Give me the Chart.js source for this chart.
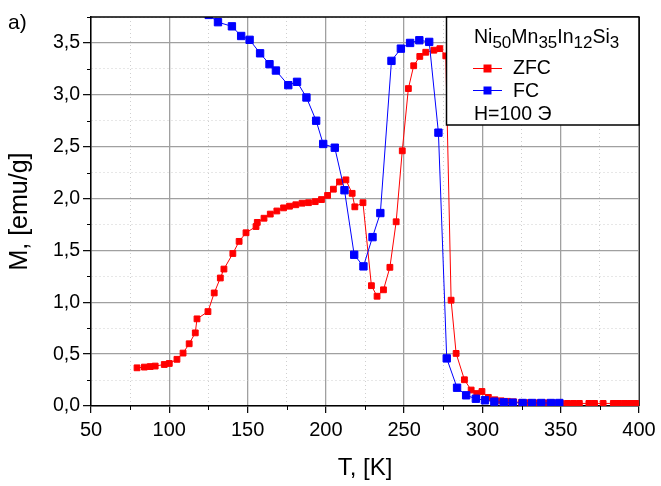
<!DOCTYPE html>
<html><head><meta charset="utf-8">
<script src="https://cdn.jsdelivr.net/npm/chart.js@4/dist/chart.umd.min.js"></script>
<style>html,body{margin:0;padding:0;background:#fff}</style>
</head><body>
<canvas id="c" width="661" height="486" style="display:block;width:661px;height:486px"></canvas>
<script>
// ZFC series
const zfcT = [79.4,84.1,87.8,91.0,96.8,100.0,104.9,108.8,112.7,116.6,117.7,124.7,128.7,132.6,134.9,140.6,144.6,149.0,155.4,156.2,160.5,164.5,168.7,173.0,176.8,180.8,184.8,188.9,193.2,197.2,201.1,204.8,208.7,212.8,216.8,218.5,223.7,229.1,232.7,236.8,240.9,244.9,248.8,252.7,256.1,260.0,263.8,269.0,272.8,276.6,280.0,283.2,288.5,292.8,296.4,299.7,303.8,308,312,316,320,325,330,335,340,345,350,354.2,358.1,361.9,368.0,371.6,377.1,383.6,387.2,390.9,394.4,398.0];
const zfcM = [0.368,0.375,0.38,0.385,0.40,0.41,0.45,0.51,0.60,0.705,0.84,0.91,1.09,1.234,1.32,1.47,1.587,1.67,1.73,1.77,1.81,1.85,1.88,1.91,1.926,1.94,1.955,1.96,1.97,1.99,2.03,2.09,2.16,2.18,2.05,1.92,1.96,1.16,1.058,1.12,1.337,1.776,2.46,3.06,3.28,3.37,3.41,3.43,3.445,3.375,1.02,0.507,0.253,0.154,0.12,0.14,0.083,0.06,0.05,0.045,0.04,0.035,0.032,0.03,0.03,0.028,0.026,0.025,0.025,0.025,0.025,0.025,0.025,0.025,0.025,0.025,0.025,0.025];
// FC series
const fcT = [114.7,125.2,131.1,140.0,145.9,151.3,158.0,164.0,168.1,176.0,181.6,187.6,193.8,198.3,205.7,211.9,218.1,224.0,229.8,234.8,241.9,247.9,253.8,259.7,266.0,271.9,277.2,283.8,289.6,295.8,301.6,307.6,313.6,319.3,325.7,331.7,337.6,343.7,349.1];
const fcM = [3.82,3.77,3.70,3.66,3.567,3.53,3.40,3.295,3.234,3.093,3.125,2.974,2.75,2.526,2.49,2.08,1.458,1.346,1.628,1.86,3.327,3.445,3.50,3.526,3.51,2.635,0.459,0.176,0.103,0.07,0.055,0.042,0.035,0.032,0.029,0.029,0.029,0.029,0.029];
// tick labels
const xTickLabels = ['50','100','150','200','250','300','350','400'];
const yTickLabels = ['0,0','0,5','1,0','1,5','2,0','2,5','3,0','3,5'];
const seriesNames = ['ZFC','FC'];
const formula = [['Ni','50'],['Mn','35'],['In','12'],['Si','3']];
const fieldLabel = 'H=100 Э';

const FONT = "'Liberation Sans', Arial, sans-serif";
const isMajX = v => Math.abs(v/50 - Math.round(v/50)) < 1e-6;
const isMajY = v => Math.abs(v/0.5 - Math.round(v/0.5)) < 1e-6;

const extras = {
  id: 'extras',
  afterDraw(chart) {
    const ctx = chart.ctx, a = chart.chartArea;
    const xs = chart.scales.x, ys = chart.scales.y;
    ctx.save();
    // minor ticks
    ctx.strokeStyle = '#000'; ctx.lineWidth = 1;
    ctx.beginPath();
    for (let v = 75; v < 400; v += 50) { const px = Math.round(xs.getPixelForValue(v)) + 0.5; ctx.moveTo(px, a.bottom); ctx.lineTo(px, a.bottom + 4); }
    for (let v = 0.25; v < 3.8; v += 0.5) { const py = Math.round(ys.getPixelForValue(v)) + 0.5; ctx.moveTo(a.left - 4, py); ctx.lineTo(a.left, py); }
    ctx.stroke();
    // frame top / right
    ctx.beginPath(); ctx.lineWidth = 1.5;
    ctx.moveTo(a.left, a.top); ctx.lineTo(a.right, a.top);
    ctx.stroke();
    ctx.beginPath(); ctx.lineWidth = 1; ctx.strokeStyle = '#333';
    ctx.moveTo(a.right + 0.5, a.top); ctx.lineTo(a.right + 0.5, a.bottom);
    ctx.stroke();
    // legend box
    const bx = 446.5, by = a.top, bw = a.right - 446.5, bh = 108;
    ctx.fillStyle = '#fff'; ctx.fillRect(bx, by, bw, bh);
    ctx.strokeStyle = '#000'; ctx.lineWidth = 1.5; ctx.strokeRect(bx, by, bw, bh);
    ctx.fillStyle = '#000'; ctx.textBaseline = 'alphabetic'; ctx.textAlign = 'left';
    let x = 474;
    formula.forEach(([el, sub]) => {
      ctx.font = '19.5px ' + FONT; ctx.fillText(el, x, 43); x += ctx.measureText(el).width;
      ctx.font = '17px ' + FONT; ctx.fillText(sub, x, 47.5); x += ctx.measureText(sub).width;
    });
    const items = [[seriesNames[0], '#ff0000', 68, 74], [seriesNames[1], '#0000ff', 90, 97]];
    items.forEach(([t, c, ly, tb]) => {
      ctx.strokeStyle = c; ctx.lineWidth = 1;
      ctx.beginPath(); ctx.moveTo(473, ly + 0.5); ctx.lineTo(502, ly + 0.5); ctx.stroke();
      ctx.fillStyle = c; ctx.fillRect(483.5, ly - 3.5, 8, 8);
      ctx.fillStyle = '#000'; ctx.font = '19.5px ' + FONT; ctx.fillText(t, 513, tb);
    });
    ctx.font = '19.5px ' + FONT; ctx.fillText(fieldLabel, 474, 120);
    // panel label
    ctx.font = '21px ' + FONT; ctx.fillText('a)', 8, 29);
    ctx.restore();
  }
};

const zfcData = zfcT.map((t, i) => ({x: t, y: zfcM[i]}));
const fcData = fcT.map((t, i) => ({x: t, y: fcM[i]}));

new Chart(document.getElementById('c'), {
  type: 'scatter',
  data: { datasets: [
    { label: seriesNames[1], data: fcData, showLine: true, borderColor: '#0000ff', backgroundColor: '#0000ff', borderWidth: 1,
      pointStyle: 'rect', pointRadius: 5.2, pointBorderWidth: 1, pointBorderColor: '#0000ff', pointBackgroundColor: '#0000ff', order: 0 },
    { label: seriesNames[0], data: zfcData, showLine: true, borderColor: '#ff0000', backgroundColor: '#ff0000', borderWidth: 1,
      pointStyle: 'rect', pointRadius: 4.1, pointBorderWidth: 1, pointBorderColor: '#ff0000', pointBackgroundColor: '#ff0000', order: 1 }
  ]},
  options: {
    responsive: false, animation: false, events: [],
    layout: { padding: { top: 17, right: 22, left: 0, bottom: 0 } },
    plugins: { legend: { display: false }, tooltip: { enabled: false } },
    scales: {
      x: { type: 'linear', min: 50, max: 400,
        afterFit: s => { s.height = 80; },
        ticks: { stepSize: 25, autoSkip: false, maxRotation: 0, padding: 5, color: '#000', font: { family: FONT, size: 20 },
          callback: v => isMajX(v) ? xTickLabels[Math.round((v - 50) / 50)] : '' },
        grid: { color: c => isMajX(c.tick.value) ? '#a0a0a0' : '#cfcfcf', lineWidth: c => isMajX(c.tick.value) ? 1.3 : 1,
          tickColor: c => isMajX(c.tick.value) ? '#000' : 'rgba(0,0,0,0)', tickLength: 7, tickWidth: 1.2 },
        border: { color: '#000', width: 1.5, dash: c => (c.tick && !isMajX(c.tick.value)) ? [1, 3] : [] },
        title: { display: true, text: 'T, [K]', color: '#000', font: { family: FONT, size: 24 }, padding: { top: 0, bottom: 3 } }
      },
      y: { type: 'linear', min: 0, max: 3.75,
        afterFit: s => { s.width = 91; },
        ticks: { stepSize: 0.25, autoSkip: false, padding: 3, color: '#000', font: { family: FONT, size: 19.5 },
          callback: v => isMajY(v) ? yTickLabels[Math.round(v / 0.5)] : '' },
        grid: { color: c => isMajY(c.tick.value) ? '#a0a0a0' : '#cfcfcf', lineWidth: c => isMajY(c.tick.value) ? 1.3 : 1,
          tickColor: c => isMajY(c.tick.value) ? '#000' : 'rgba(0,0,0,0)', tickLength: 8, tickWidth: 1.2 },
        border: { color: '#000', width: 1.5, dash: c => (c.tick && !isMajY(c.tick.value)) ? [1, 3] : [] },
        title: { display: true, text: 'M, [emu/g]', color: '#000', font: { family: FONT, size: 25 }, padding: { top: 5, bottom: 0 } }
      }
    }
  },
  plugins: [extras]
});
</script>
</body></html>
